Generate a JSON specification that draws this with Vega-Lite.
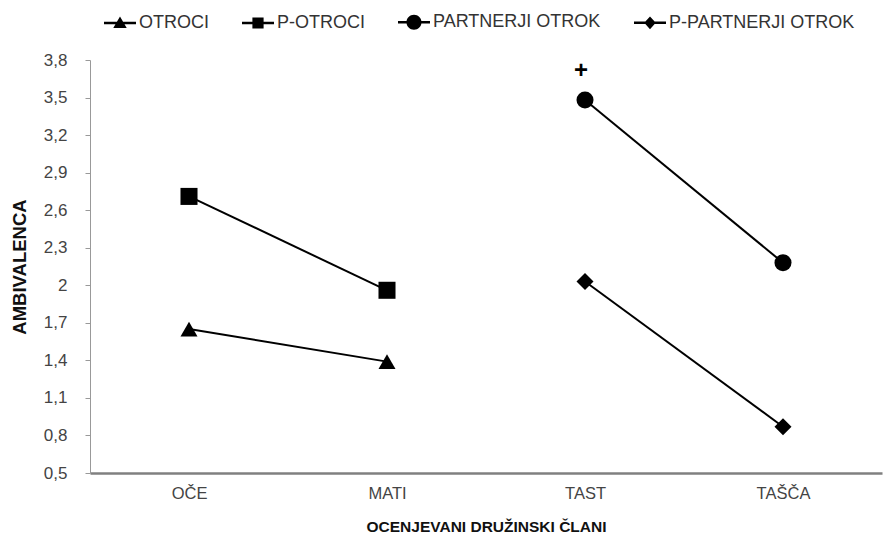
{
  "$schema": "https://vega.github.io/schema/vega-lite/v6.json",
  "width": 792,
  "height": 413,
  "autosize": {"type": "none"},
  "padding": {"left": 90, "top": 60, "right": 8, "bottom": 72},
  "background": "white",
  "config": {"view": {"stroke": null}},
  "data": {"values": [
    {"clan": "OČE", "series": "OTROCI", "value": 1.65},
    {"clan": "MATI", "series": "OTROCI", "value": 1.39},
    {"clan": "OČE", "series": "P-OTROCI", "value": 2.71},
    {"clan": "MATI", "series": "P-OTROCI", "value": 1.96},
    {"clan": "TAST", "series": "PARTNERJI OTROK", "value": 3.48},
    {"clan": "TAŠČA", "series": "PARTNERJI OTROK", "value": 2.18},
    {"clan": "TAST", "series": "P-PARTNERJI OTROK", "value": 2.03},
    {"clan": "TAŠČA", "series": "P-PARTNERJI OTROK", "value": 0.87}
  ]},
  "encoding": {
    "x": {
      "field": "clan", "type": "nominal",
      "scale": {"type": "point", "padding": 0.5, "domain": ["OČE", "MATI", "TAST", "TAŠČA"]},
      "axis": {
        "title": "OCENJEVANI DRUŽINSKI ČLANI",
        "titleFont": "Liberation Sans, Arial",
        "titleFontSize": 15.5, "titleFontWeight": "bold", "titleColor": "#111", "titlePadding": 18,
        "labelAngle": 0, "labelFont": "Liberation Sans, Arial",
        "labelFontSize": 16.5, "labelColor": "#444", "labelPadding": 12,
        "ticks": false, "domainColor": "#808080", "domainWidth": 2.5, "grid": false
      }
    },
    "y": {
      "field": "value", "type": "quantitative",
      "scale": {"domain": [0.5, 3.8], "nice": false, "zero": false},
      "axis": {
        "title": "AMBIVALENCA",
        "titleFont": "Liberation Sans, Arial",
        "titleFontSize": 18.5, "titleFontWeight": "bold", "titleColor": "#111", "titlePadding": 14,
        "values": [0.5, 0.8, 1.1, 1.4, 1.7, 2, 2.3, 2.6, 2.9, 3.2, 3.5, 3.8],
        "labelExpr": "replace(format(datum.value, '.1~f'), '.', ',')",
        "labelFont": "Liberation Sans, Arial", "labelFontSize": 17, "labelColor": "#444",
        "labelPadding": 18, "tickSize": 5, "tickColor": "#999", "domainColor": "#999", "grid": false
      }
    }
  },
  "layer": [
    {
      "mark": {"type": "line", "color": "black", "strokeWidth": 2},
      "encoding": {"detail": {"field": "series"}}
    },
    {
      "mark": {"type": "point", "filled": true, "color": "black", "opacity": 1},
      "encoding": {
        "shape": {
          "field": "series", "type": "nominal",
          "scale": {
            "domain": ["OTROCI", "P-OTROCI", "PARTNERJI OTROK", "P-PARTNERJI OTROK"],
            "range": [
              "M-1,-0.08H1V0.08H-1ZM0,-0.4L0.42,0.32L-0.42,0.32Z",
              "M-1,-0.08H1V0.08H-1ZM-0.35,-0.35H0.35V0.35H-0.35Z",
              "M-1,-0.08H1V0.08H-1ZM0.47,0A0.47,0.47,0,1,1,-0.47,0A0.47,0.47,0,1,1,0.47,0Z",
              "M-1,-0.08H1V0.08H-1ZM0,-0.4L0.36,0L0,0.4L-0.36,0Z"
            ]
          },
          "legend": {
            "title": null, "orient": "none", "legendX": 13, "legendY": -55,
            "direction": "horizontal", "columns": 4, "columnPadding": 30,
            "symbolSize": 1024, "symbolFillColor": "black", "symbolOpacity": 1,
            "labelFont": "Liberation Sans, Arial", "labelLimit": 400,
            "labelFontSize": 18, "labelColor": "#333", "labelOffset": 2
          }
        },
        "size": {"value": 1}
      }
    },
    {
      "mark": {"type": "point", "filled": true, "color": "black", "opacity": 1},
      "encoding": {
        "shape": {
          "field": "series", "type": "nominal",
          "scale": {
            "domain": ["OTROCI", "P-OTROCI", "PARTNERJI OTROK", "P-PARTNERJI OTROK"],
            "range": ["triangle-up", "square", "circle", "diamond"]
          },
          "legend": null
        },
        "size": {"value": 290}
      }
    },
    {
      "data": {"values": [{"clan": "TAST", "value": 3.71, "label": "+"}]},
      "mark": {"type": "text", "fontSize": 24, "fontWeight": "bold", "font": "Liberation Sans, Arial", "color": "black", "baseline": "middle", "dx": -4},
      "encoding": {"text": {"field": "label"}}
    }
  ],
  "resolve": {"scale": {"shape": "independent"}}
}
